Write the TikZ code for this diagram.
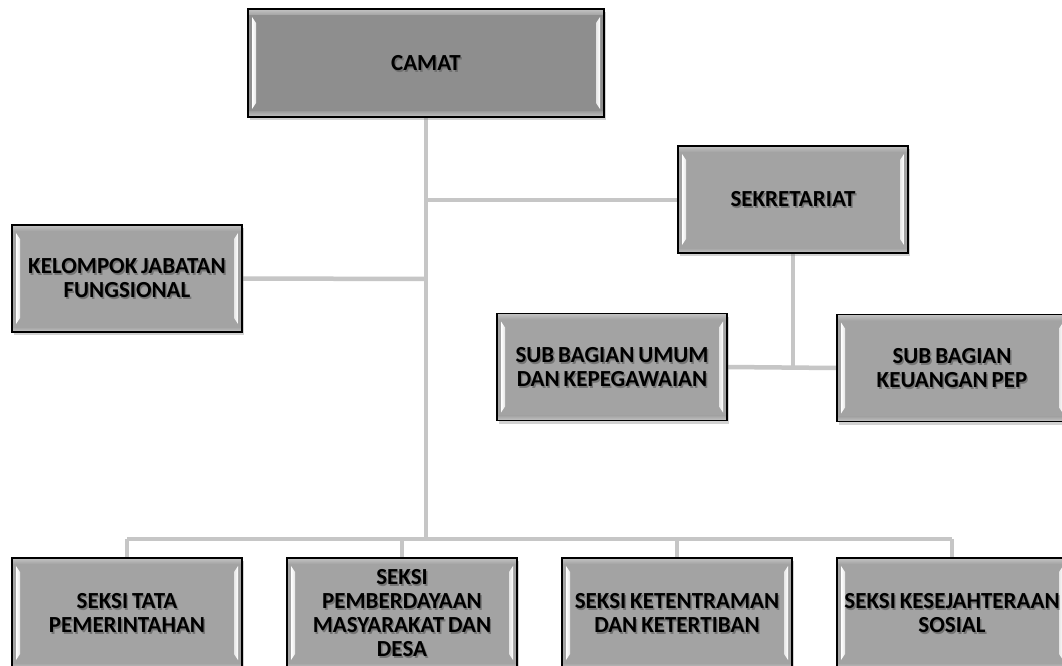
\documentclass[tikz,border=0pt]{standalone}
\usepackage{fontspec}
\setmainfont[WordSpace=0.75]{Carlito}
\usetikzlibrary{shadows,backgrounds,calc}
\definecolor{boxfill}{HTML}{A3A3A3}
\definecolor{camatfill}{HTML}{8E8E8E}
\definecolor{linegray}{HTML}{C6C6C6}
\definecolor{bevellight}{HTML}{C4C4C4}
\tikzset{
  boxfont/.style={font=\bfseries\fontsize{23}{24}\selectfont, align=center},
  shadowtxt/.style={boxfont, text=black!60, opacity=0.75, inner sep=0pt},
  boxsize/.style 2 args={minimum width=#1pt, minimum height=#2pt},
  orgbox/.style={
    boxfont, draw=black, line width=1.1pt, fill=boxfill, inner sep=2pt,
    drop shadow={shadow xshift=1.5pt, shadow yshift=-3pt, opacity=0.35},
    path picture={
      \path (path picture bounding box.south west) coordinate (bsw)
            (path picture bounding box.north east) coordinate (bne);
      \shade[top color=bevellight, bottom color=boxfill, draw=none]
        (bsw|-bne) rectangle ($(bne)+(0pt,-6pt)$);
      \shade[bottom color=bevellight, top color=boxfill, draw=none]
        (bsw) rectangle ($(bsw-|bne)+(0pt,5pt)$);
      \shade[left color=white, right color=white!80!gray, draw=none]
        ($(bsw)+(4pt,8pt)$) -- ($(bsw)+(8pt,14pt)$) -- ($(bsw|-bne)+(8pt,-14pt)$)
        -- ($(bsw|-bne)+(4pt,-8pt)$) -- cycle;
      \shade[right color=white, left color=white!80!gray, draw=none]
        ($(bsw-|bne)+(-4pt,8pt)$) -- ($(bsw-|bne)+(-8pt,14pt)$) -- ($(bne)+(-8pt,-14pt)$)
        -- ($(bne)+(-4pt,-8pt)$) -- cycle;
      \node[shadowtxt] at ($(path picture bounding box.center)+(1.4pt,-1.8pt)$) {#1};
    }},
  conn/.style={draw=linegray, line width=4.5pt},
}
\begin{document}
\begin{tikzpicture}[x=1pt, y=-1pt]
  \useasboundingbox (0,0) rectangle (1062,666);

  \node[orgbox={CAMAT}, fill=camatfill, boxsize={356}{108}] (camat) at (426,63) {CAMAT};
  \node[orgbox={SEKRETARIAT}, boxsize={230}{107}] (sekr) at (793,199.5) {SEKRETARIAT};
  \node[orgbox={KELOMPOK JABATAN\\FUNGSIONAL}, boxsize={230}{107}] (kel) at (127,278.5) {KELOMPOK JABATAN\\FUNGSIONAL};
  \node[orgbox={SUB BAGIAN UMUM\\DAN KEPEGAWAIAN}, boxsize={230}{107}] (umum) at (612,367) {SUB BAGIAN UMUM\\DAN KEPEGAWAIAN};
  \node[orgbox={SUB BAGIAN\\KEUANGAN PEP}, boxsize={230}{107}] (keu) at (952,368) {SUB BAGIAN\\KEUANGAN PEP};

  \node[orgbox={SEKSI TATA\\PEMERINTAHAN}, boxsize={230}{110}] (s1) at (127,613) {SEKSI TATA\\PEMERINTAHAN};
  \node[orgbox={SEKSI\\PEMBERDAYAAN\\MASYARAKAT DAN\\DESA}, boxsize={230}{110}] (s2) at (402,613) {SEKSI\\PEMBERDAYAAN\\MASYARAKAT DAN\\DESA};
  \node[orgbox={SEKSI KETENTRAMAN\\DAN KETERTIBAN}, boxsize={230}{110}] (s3) at (677,613) {SEKSI KETENTRAMAN\\DAN KETERTIBAN};
  \node[orgbox={SEKSI KESEJAHTERAAN\\SOSIAL}, boxsize={230}{110}] (s4) at (952,613) {SEKSI KESEJAHTERAAN\\SOSIAL};

  \coordinate (busmid) at (426,539);
  \coordinate (busl) at (127,539);
  \coordinate (busr) at (952,539);
  \coordinate (jsekr) at (426,200);
  \coordinate (jkel) at (426,279);
  \coordinate (jsub) at (793,367.5);

  \begin{scope}[on background layer]
    \fill[white] (0,0) rectangle (1062,666);
    \draw[conn] (camat.south) -- (busmid);
    \draw[conn] (jsekr) -- (jsekr -| sekr.west);
    \draw[conn] (kel.east) -- (jkel);
    \draw[conn] (sekr.south) -- (jsub);
    \draw[conn] (umum.east) -- (keu.west);
    \draw[conn] (busl) -- (busr);
    \draw[conn] (busl) -- (s1.north);
    \draw[conn] (busl -| s2.north) -- (s2.north);
    \draw[conn] (busl -| s3.north) -- (s3.north);
    \draw[conn] (busr) -- (s4.north);
  \end{scope}
\end{tikzpicture}
\end{document}
